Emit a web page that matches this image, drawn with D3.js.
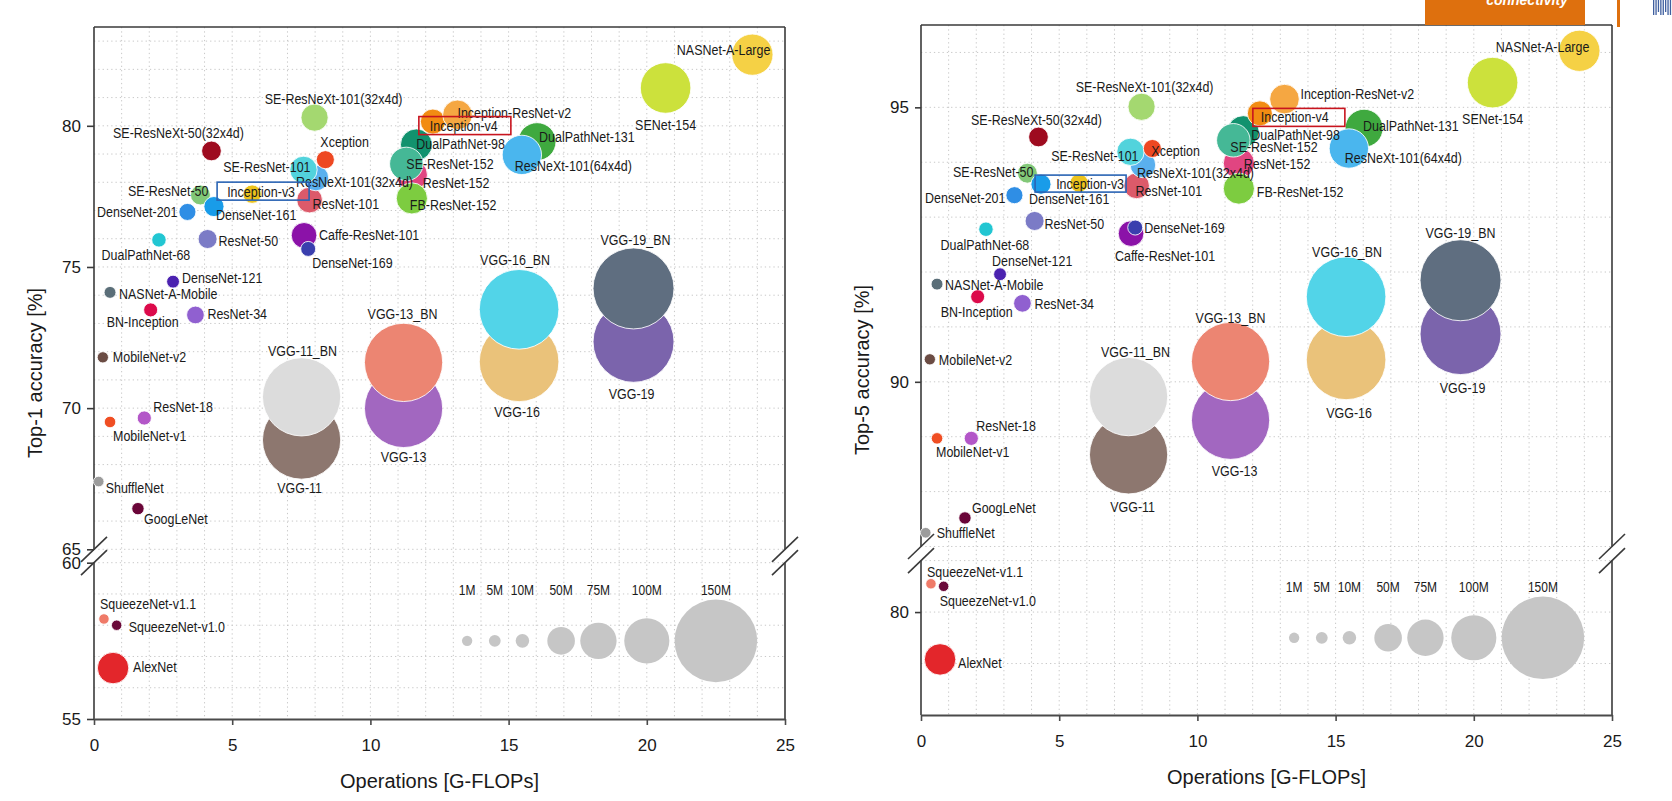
<!DOCTYPE html>
<html><head><meta charset="utf-8">
<script src="https://cdn.jsdelivr.net/npm/d3@7"></script>
<style>
body{margin:0;background:#fff}
svg{display:block}
text{font-family:"Liberation Sans",Arial,Helvetica,sans-serif;fill:#1a1a1a}
</style>
</head><body>
<svg id="chart" width="1672" height="801"></svg>
<script>
// ---------------- DATA ----------------
const models = ["VGG-11","VGG-11_BN","VGG-13","VGG-13_BN","VGG-16","VGG-16_BN","VGG-19","VGG-19_BN",
 "AlexNet","SqueezeNet-v1.1","SqueezeNet-v1.0","ShuffleNet","GoogLeNet","MobileNet-v1","MobileNet-v2",
 "ResNet-18","BN-Inception","NASNet-A-Mobile","ResNet-34","DenseNet-121","DualPathNet-68","ResNet-50",
 "DenseNet-201","SE-ResNet-50","DenseNet-161","Inception-v3","SE-ResNeXt-50(32x4d)","Caffe-ResNet-101",
 "DenseNet-169","ResNet-101","ResNeXt-101(32x4d)","SE-ResNet-101","Xception","SE-ResNeXt-101(32x4d)",
 "ResNet-152","FB-ResNet-152","DualPathNet-98","SE-ResNet-152","Inception-v4","Inception-ResNet-v2",
 "DualPathNet-131","ResNeXt-101(64x4d)","SENet-154","NASNet-A-Large"];
const gflops = [7.51,7.51,11.2,11.2,15.38,15.38,19.52,19.52,
 0.69,0.36,0.82,0.17,1.59,0.58,0.32,
 1.82,2.05,0.58,3.67,2.86,2.35,4.11,
 3.38,3.85,4.34,5.72,4.25,7.6,
 7.75,7.8,8.03,7.58,8.37,7.98,
 11.5,11.5,11.66,11.3,12.26,13.15,
 16.03,15.48,20.68,23.82];
const top1 = [68.87,70.4,69.99,71.62,71.64,73.5,72.35,74.24,
 56.63,58.2,58.0,67.4,66.44,69.51,71.8,
 69.65,73.48,74.1,73.3,74.48,75.96,75.99,
 76.95,77.55,77.14,77.58,79.11,76.12,
 75.64,77.37,78.15,78.44,78.8,80.29,
 78.26,77.43,79.33,78.65,80.15,80.39,
 79.44,78.97,81.34,82.52];
const top5 = [88.67,89.73,89.3,90.37,90.4,91.55,90.87,91.85,
 79.08,80.55,80.5,87.25,87.52,88.97,90.41,
 88.97,91.55,91.78,91.43,91.96,92.78,92.93,
 93.4,93.8,93.6,93.62,94.46,92.7,
 92.81,93.57,93.95,94.19,94.25,95.01,
 93.98,93.52,94.56,94.4,94.89,95.15,
 94.62,94.25,95.45,96.03];
const paramsM = [132.9,132.9,133.0,133.1,138.4,138.4,143.7,143.7,
 61.1,1.24,1.25,1.8,6.6,4.2,3.5,
 11.7,11.3,5.3,21.8,8.0,12.6,25.6,
 20.0,28.1,28.7,23.8,27.6,44.5,
 14.1,44.5,44.2,49.3,22.9,49.0,
 60.2,60.2,61.6,66.8,42.7,55.8,
 79.3,83.5,115.1,88.9];
const xTicks = [0,5,10,15,20,25];
const top1Ticks = [55,60,65,70,75,80];
const top5Ticks = [80,90,95];
const legendSizes = [1,5,10,50,75,100,150];
const legendLabels = ["1M","5M","10M","50M","75M","100M","150M"];
const legendGflops = [13.5,14.5,15.5,16.9,18.25,20,22.5];
const legendTop1 = 57.5;
const legendTop5 = 79.5;

// ---------------- STYLE ----------------
const colors = {
 "VGG-11":"#8d776f","VGG-11_BN":"#dcdcdc","VGG-13":"#a267c0","VGG-13_BN":"#ec8572",
 "VGG-16":"#eac27a","VGG-16_BN":"#52d4e8","VGG-19":"#7b64ac","VGG-19_BN":"#5f6e80",
 "AlexNet":"#e3262b","SqueezeNet-v1.1":"#ef7a68","SqueezeNet-v1.0":"#6b0a3a","ShuffleNet":"#9c9c9c",
 "GoogLeNet":"#6a0538","MobileNet-v1":"#f04e23","MobileNet-v2":"#6b4c44","ResNet-18":"#b356c8",
 "BN-Inception":"#dc0a4b","NASNet-A-Mobile":"#5a6e78","ResNet-34":"#9060d0","DenseNet-121":"#4b22b0",
 "DualPathNet-68":"#22c6d2","ResNet-50":"#7b7bc6","DenseNet-201":"#2f8ee5","SE-ResNet-50":"#82c878",
 "DenseNet-161":"#199ce9","Inception-v3":"#ecc31c","SE-ResNeXt-50(32x4d)":"#9e0b1f","Caffe-ResNet-101":"#8b12a8",
 "DenseNet-169":"#3a3fae","ResNet-101":"#dc5a6a","ResNeXt-101(32x4d)":"#5ab0ee","SE-ResNet-101":"#52d3dc",
 "Xception":"#ee4822","SE-ResNeXt-101(32x4d)":"#a4d870","ResNet-152":"#e14581","FB-ResNet-152":"#7dcc40",
 "DualPathNet-98":"#12926e","SE-ResNet-152":"#45b896","Inception-v4":"#f28c12","Inception-ResNet-v2":"#f5a742",
 "DualPathNet-131":"#3fa93f","ResNeXt-101(64x4d)":"#4ab6ee","SENet-154":"#cce13c","NASNet-A-Large":"#f5d145"
};

// label placement: [anchor, dx, dy] in px from bubble centre
const labelsTop1 = {
 "SE-ResNeXt-101(32x4d)":["middle",19,-19],"SE-ResNeXt-50(32x4d)":["middle",-33,-18],"Xception":["start",-5,-18],
 "SE-ResNet-101":["end",7,-3],"ResNeXt-101(32x4d)":["start",-20,4],"Inception-v3":["middle",9,-2],
 "SE-ResNet-50":["end",8,-4],"DenseNet-201":["end",-10,0],"DenseNet-161":["start",2,8],"ResNet-101":["start",3,4],
 "SE-ResNet-152":["start",0,0],"ResNet-152":["start",11,8],"FB-ResNet-152":["start",-2,7],"DualPathNet-98":["start",0,-1],
 "Inception-v4":["start",-3,4],"Inception-ResNet-v2":["start",0,-2],"DualPathNet-131":["start",2,-5],
 "ResNeXt-101(64x4d)":["start",-7,11],"SENet-154":["middle",0,37],"NASNet-A-Large":["end",18,-5],
 "DualPathNet-68":["middle",-13,15],"ResNet-50":["start",11,2],"Caffe-ResNet-101":["start",15,0],
 "DenseNet-169":["start",4,14],"DenseNet-121":["start",9,-4],"NASNet-A-Mobile":["start",9,2],
 "BN-Inception":["middle",-8,12],"ResNet-34":["start",12,-1],"MobileNet-v2":["start",10,0],"ResNet-18":["start",9,-11],
 "MobileNet-v1":["start",3,14],"ShuffleNet":["start",7,6],"GoogLeNet":["start",6,10],
 "VGG-11_BN":["middle",1,-46],"VGG-11":["middle",-2,48],"VGG-13_BN":["middle",-1,-48],"VGG-13":["middle",0,49],
 "VGG-16":["middle",-2,50],"VGG-19":["middle",-2,52],"VGG-16_BN":["middle",-4,-49],"VGG-19_BN":["middle",2,-49],
 "SqueezeNet-v1.1":["start",-4,-15],"SqueezeNet-v1.0":["start",12,2],"AlexNet":["start",20,-1]
};
const labelsTop5 = {
 "SE-ResNeXt-101(32x4d)":["middle",3,-20],"SE-ResNeXt-50(32x4d)":["middle",-2,-17],"Xception":["start",-1,2],
 "SE-ResNet-101":["end",8,4],"ResNeXt-101(32x4d)":["start",-6,8],"Inception-v3":["middle",11,1],
 "ResNet-101":["start",-1,5],"SE-ResNet-50":["end",6,-1],"DenseNet-201":["end",-9,3],"DenseNet-161":["start",-12,15],
 "ResNet-50":["start",10,3],"DualPathNet-68":["middle",-1,16],"DenseNet-169":["start",9,0],
 "Caffe-ResNet-101":["middle",34,22],"DenseNet-121":["start",-8,-13],"Inception-v4":["start",1,4],
 "DualPathNet-98":["start",8,3],"SE-ResNet-152":["start",-3,7],"ResNet-152":["start",5,1],"FB-ResNet-152":["start",18,3],
 "Inception-ResNet-v2":["start",16,-5],"DualPathNet-131":["start",-1,-2],"ResNeXt-101(64x4d)":["start",-4,9],
 "SENet-154":["middle",0,36],"NASNet-A-Large":["end",10,-4],"VGG-19_BN":["middle",0,-47],"VGG-16_BN":["middle",1,-45],
 "NASNet-A-Mobile":["start",8,1],"BN-Inception":["middle",-1,15],"ResNet-34":["start",12,1],"MobileNet-v2":["start",9,1],
 "ResNet-18":["start",5,-12],"MobileNet-v1":["start",-1,14],"GoogLeNet":["start",7,-10],"ShuffleNet":["start",11,0],
 "VGG-11_BN":["middle",7,-45],"VGG-11":["middle",4,52],"VGG-13_BN":["middle",0,-44],"VGG-13":["middle",4,51],
 "VGG-16":["middle",3,53],"VGG-19":["middle",2,54],"SqueezeNet-v1.1":["start",-4,-12],"SqueezeNet-v1.0":["start",-4,15],
 "AlexNet":["start",18,4]
};
// highlight boxes: [left, right, top, bottom] in px relative to bubble centre
const boxesTop1 = {"Inception-v3":["#2a64b4",-35,57,-12,6],"Inception-v4":["#c8141e",-14,78,-5,13]};
const boxesTop5 = {"Inception-v3":["#2a64b4",-44,47,-8,9],"Inception-v4":["#c8141e",-7,85,-5,13]};

const panels = [
 {values: top1, ticks: top1Ticks, title: "Top-1 accuracy [%]", labels: labelsTop1, boxes: boxesTop1, legendY: legendTop1,
  x0: 94, x1: 785, top: 27, bottom: 719, split: 62.5,
  upperDomain: [65, 83.5], upperRange: [549.3, 27], lowerDomain: [55, 60], lowerRange: [719, 562.7], tickLen: 7},
 {values: top5, ticks: top5Ticks, title: "Top-5 accuracy [%]", labels: labelsTop5, boxes: boxesTop5, legendY: legendTop5,
  x0: 921, x1: 1612, top: 25, bottom: 715, split: 84,
  upperDomain: [87, 96.5], upperRange: [546.5, 25], lowerDomain: [78, 81], lowerRange: [715, 560.6], tickLen: 6}
];

// bubble radius scale (px) from parameters (millions)
const rScale = d3.scaleLinear().domain([0, 5, 115, 132, 150]).range([5, 5.9, 25.2, 39, 41.3]).clamp(true);

const svg = d3.select("#chart");

function label(g, x, y, txt, anchor, size, sx) {
  g.append("text").attr("transform", `translate(${x},${y}) scale(${sx},1)`)
    .attr("text-anchor", anchor).attr("dy", "0.35em").attr("font-size", size).text(txt);
}

function drawPanel(p) {
  const g = svg.append("g");
  const x = d3.scaleLinear().domain([0, 25]).range([p.x0, p.x1]);
  const yU = d3.scaleLinear().domain(p.upperDomain).range(p.upperRange);
  const yL = d3.scaleLinear().domain(p.lowerDomain).range(p.lowerRange);
  const y = v => v >= p.split ? yU(v) : yL(v);

  // grid
  const grid = g.append("g").attr("stroke", "#c8c8c8").attr("stroke-width", 1).attr("stroke-dasharray", "1.3,3");
  grid.selectAll("line.v").data(d3.range(1, 25)).join("line").attr("class", "v")
    .attr("x1", d => x(d)).attr("x2", d => x(d)).attr("y1", p.top).attr("y2", p.bottom);
  const hU = d3.range(Math.ceil(p.upperDomain[0]), Math.floor(p.upperDomain[1]) + 1);
  const hL = d3.range(p.lowerDomain[0] + 1, Math.floor(p.lowerDomain[1]) + 1);
  grid.selectAll("line.hu").data(hU).join("line").attr("class", "hu")
    .attr("x1", p.x0).attr("x2", p.x1).attr("y1", d => yU(d)).attr("y2", d => yU(d));
  grid.selectAll("line.hl").data(hL).join("line").attr("class", "hl")
    .attr("x1", p.x0).attr("x2", p.x1).attr("y1", d => yL(d)).attr("y2", d => yL(d));

  // frame lines (with breaks)
  const yBreakU = yU(p.upperDomain[0]), yBreakL = yL(p.lowerDomain[1]);
  const fr = g.append("g").attr("stroke", "#3a3a3a").attr("stroke-width", 1.6).attr("fill", "none");
  fr.append("line").attr("x1", p.x0).attr("x2", p.x1).attr("y1", p.top).attr("y2", p.top);
  [p.x0, p.x1].forEach(xx => {
    fr.append("line").attr("x1", xx).attr("x2", xx).attr("y1", p.top).attr("y2", yBreakU);
    fr.append("line").attr("x1", xx).attr("x2", xx).attr("y1", yBreakL).attr("y2", p.bottom);
    [yBreakU, yBreakL].forEach(yy => {
      fr.append("line").attr("x1", xx - 13).attr("y1", yy + 12.5).attr("x2", xx + 13).attr("y2", yy - 12.5);
    });
  });

  // x axis
  const xa = g.append("g").attr("transform", `translate(0,${p.bottom})`)
    .call(d3.axisBottom(x).tickValues(xTicks).tickSize(6).tickSizeOuter(0).tickFormat(d3.format("d")));
  xa.select(".domain").attr("stroke", "#4a4a4a").attr("stroke-width", 2.2);
  xa.selectAll(".tick line").attr("stroke", "#4a4a4a").attr("stroke-width", 1.6);
  xa.selectAll(".tick text").attr("y", 26).attr("dy", "0.35em").attr("font-size", 17)
    .attr("font-family", "'Liberation Sans',Arial,sans-serif").attr("fill", "#1a1a1a");

  // y axes
  [[yU, p.ticks.filter(t => t >= p.split)], [yL, p.ticks.filter(t => t < p.split)]].forEach(([sc, tv]) => {
    const ya = g.append("g").attr("transform", `translate(${p.x0},0)`)
      .call(d3.axisLeft(sc).tickValues(tv).tickSize(p.tickLen).tickPadding(6).tickFormat(d3.format("d")));
    ya.select(".domain").remove();
    ya.selectAll(".tick line").attr("stroke", "#3a3a3a").attr("stroke-width", 1.6);
    ya.selectAll(".tick text").attr("font-size", 17).attr("font-family", "'Liberation Sans',Arial,sans-serif").attr("fill", "#1a1a1a");
  });

  // titles
  g.append("text").attr("x", (p.x0 + p.x1) / 2).attr("y", p.bottom + 62).attr("dy", "0.35em")
    .attr("text-anchor", "middle").attr("font-size", 20).text("Operations [G-FLOPs]");
  g.append("text").attr("transform", `translate(${p.x0 - 59},${(p.top + p.bottom) / 2}) rotate(-90)`)
    .attr("dy", "0.35em").attr("text-anchor", "middle").attr("font-size", 20).text(p.title);

  // size legend
  const lg = g.append("g");
  lg.selectAll("circle").data(legendSizes).join("circle")
    .attr("cx", (d, i) => x(legendGflops[i])).attr("cy", y(p.legendY)).attr("r", d => rScale(d)).attr("fill", "#c6c6c6");
  legendLabels.forEach((t, i) => label(lg, x(legendGflops[i]), y(p.legendY) - 51, t, "middle", 15, 0.8));

  // bubbles
  const pts = models.map((m, i) => ({name: m, cx: x(gflops[i]), cy: y(p.values[i]), r: rScale(paramsM[i])}));
  g.append("g").selectAll("circle").data(pts).join("circle")
    .attr("cx", d => d.cx).attr("cy", d => d.cy).attr("r", d => d.r)
    .attr("fill", d => colors[d.name]).attr("stroke", "#ffffff").attr("stroke-width", 1).attr("stroke-opacity", 0.85);

  // labels
  const tg = g.append("g");
  pts.forEach(d => {
    const L = p.labels[d.name];
    if (!L) return;
    label(tg, d.cx + L[1], d.cy + L[2], d.name, L[0], 14.5, 0.86);
  });

  // highlight boxes
  pts.forEach(d => {
    const B = p.boxes[d.name];
    if (!B) return;
    g.append("rect").attr("x", d.cx + B[1]).attr("y", d.cy + B[3])
      .attr("width", B[2] - B[1]).attr("height", B[4] - B[3])
      .attr("fill", "none").attr("stroke", B[0]).attr("stroke-width", 1.6);
  });
}

panels.forEach(drawPanel);

// top-right slide decoration
const deco = svg.append("g");
deco.append("rect").attr("x", 1425).attr("y", 0).attr("width", 160).attr("height", 25).attr("fill", "#de700e");
deco.append("text").attr("x", 1527).attr("y", 5).attr("text-anchor", "middle").attr("font-size", 14)
  .attr("font-weight", "bold").attr("font-style", "italic").style("fill", "#ffffff").text("connectivity");
deco.append("rect").attr("x", 1617).attr("y", 0).attr("width", 3).attr("height", 27).attr("fill", "#de700e");
d3.range(8).forEach(i => deco.append("rect").attr("x", 1653 + i * 2.4).attr("y", 0)
  .attr("width", 1.3).attr("height", i % 3 === 2 ? 12 : 15).attr("fill", "#3f5f9f"));
</script>
</body></html>
